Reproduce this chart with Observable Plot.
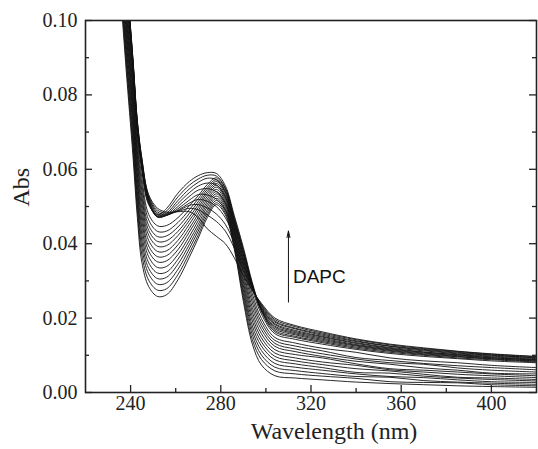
<!DOCTYPE html>
<html><head><meta charset="utf-8">
<script src="https://cdn.jsdelivr.net/npm/d3@7"></script>
<script src="https://cdn.jsdelivr.net/npm/@observablehq/plot@0.6"></script>
<style>body{margin:0;background:#fff}</style>
</head><body><div id="chart"></div>
<script>
// Wavelength grid (nm)
const wavelength = [235,238,241,243,245,248,252,256,261,266,270,274,278,282,286,290,294,298,304,313,325,340,355,370,385,400,420];
// Absorbance spectra
const s01 = [.1120,.0870,.0640,.0470,.0350,.0285,.0258,.0263,.0303,.0363,.0415,.0470,.0505,.0478,.0385,.0245,.0130,.0074,.0045,.0039,.0034,.0028,.0024,.0021,.0018,.0016,.0014];
const s02 = [.1137,.0889,.0659,.0489,.0370,.0302,.0275,.0279,.0317,.0374,.0424,.0477,.0510,.0483,.0391,.0255,.0142,.0089,.0058,.0050,.0044,.0038,.0029,.0027,.0026,.0021,.0018];
const s03 = [.1152,.0906,.0676,.0506,.0389,.0319,.0291,.0295,.0331,.0386,.0434,.0484,.0516,.0489,.0397,.0266,.0155,.0101,.0068,.0059,.0051,.0043,.0041,.0032,.0028,.0025,.0022];
const s04 = [.1167,.0923,.0693,.0523,.0407,.0334,.0306,.0310,.0345,.0397,.0443,.0491,.0522,.0494,.0403,.0276,.0167,.0113,.0078,.0068,.0060,.0050,.0043,.0040,.0034,.0029,.0027];
const s05 = [.1182,.0940,.0710,.0540,.0425,.0349,.0321,.0324,.0358,.0408,.0452,.0499,.0528,.0500,.0410,.0287,.0179,.0125,.0088,.0077,.0067,.0054,.0052,.0044,.0039,.0035,.0031];
const s06 = [.1196,.0956,.0726,.0556,.0443,.0365,.0336,.0339,.0371,.0419,.0462,.0506,.0534,.0505,.0416,.0297,.0192,.0136,.0097,.0085,.0075,.0064,.0058,.0049,.0041,.0039,.0035];
const s07 = [.1211,.0973,.0743,.0573,.0461,.0380,.0351,.0354,.0384,.0431,.0471,.0513,.0540,.0510,.0422,.0307,.0204,.0147,.0106,.0093,.0082,.0073,.0061,.0055,.0049,.0045,.0040];
const s08 = [.1225,.0988,.0758,.0588,.0477,.0394,.0365,.0368,.0397,.0441,.0480,.0520,.0546,.0516,.0428,.0318,.0216,.0158,.0115,.0102,.0093,.0077,.0064,.0060,.0055,.0050,.0045];
const s09 = [.1238,.1004,.0774,.0604,.0494,.0409,.0379,.0381,.0409,.0452,.0489,.0527,.0552,.0521,.0434,.0328,.0228,.0169,.0124,.0110,.0097,.0084,.0076,.0066,.0060,.0052,.0050];
const s10 = [.1252,.1019,.0789,.0619,.0511,.0423,.0393,.0395,.0422,.0462,.0497,.0534,.0557,.0526,.0440,.0338,.0241,.0179,.0132,.0117,.0104,.0090,.0080,.0076,.0066,.0060,.0055];
const s11 = [.1265,.1034,.0804,.0634,.0526,.0436,.0406,.0408,.0433,.0471,.0505,.0540,.0562,.0532,.0447,.0349,.0253,.0189,.0140,.0125,.0112,.0094,.0086,.0078,.0072,.0067,.0061];
const s12 = [.1278,.1048,.0818,.0648,.0542,.0449,.0419,.0421,.0445,.0481,.0513,.0546,.0567,.0537,.0453,.0359,.0265,.0199,.0148,.0133,.0119,.0108,.0093,.0085,.0080,.0073,.0067];
const s13 = [.1291,.1064,.0834,.0664,.0559,.0464,.0433,.0434,.0457,.0491,.0521,.0552,.0572,.0543,.0459,.0370,.0278,.0211,.0158,.0143,.0130,.0116,.0105,.0097,.0091,.0085,.0080];
const s14 = [.1306,.1080,.0850,.0680,.0577,.0479,.0448,.0449,.0470,.0502,.0529,.0559,.0577,.0548,.0465,.0380,.0290,.0218,.0163,.0148,.0134,.0119,.0108,.0100,.0093,.0088,.0082];
const s15 = [.1323,.1099,.0869,.0699,.0597,.0505,.0478,.0495,.0536,.0567,.0583,.0591,.0589,.0556,.0475,.0390,.0295,.0222,.0167,.0151,.0137,.0122,.0111,.0102,.0096,.0090,.0084];
const s16 = [.1327,.1103,.0873,.0703,.0601,.0508,.0474,.0488,.0526,.0557,.0574,.0584,.0582,.0550,.0470,.0384,.0290,.0220,.0171,.0155,.0140,.0125,.0113,.0104,.0097,.0091,.0085];
const s17 = [.1330,.1108,.0878,.0708,.0606,.0511,.0472,.0482,.0516,.0547,.0565,.0576,.0572,.0540,.0462,.0377,.0288,.0222,.0175,.0158,.0143,.0127,.0115,.0106,.0099,.0093,.0087];
const s18 = [.1333,.1111,.0881,.0711,.0610,.0514,.0471,.0478,.0508,.0537,.0555,.0563,.0558,.0527,.0453,.0370,.0286,.0224,.0178,.0161,.0146,.0129,.0117,.0108,.0101,.0094,.0088];
const s19 = [.1336,.1114,.0884,.0714,.0613,.0517,.0473,.0476,.0500,.0527,.0544,.0548,.0540,.0510,.0443,.0362,.0285,.0227,.0182,.0164,.0149,.0132,.0119,.0109,.0102,.0096,.0089];
const s20 = [.1339,.1118,.0888,.0718,.0617,.0520,.0477,.0476,.0494,.0517,.0532,.0531,.0520,.0490,.0430,.0353,.0283,.0229,.0185,.0167,.0151,.0134,.0121,.0112,.0104,.0098,.0091];
const s21 = [.1342,.1121,.0891,.0721,.0620,.0523,.0481,.0477,.0490,.0509,.0519,.0514,.0500,.0470,.0416,.0345,.0281,.0232,.0189,.0171,.0154,.0137,.0124,.0114,.0106,.0100,.0093];
const s22 = [.1345,.1125,.0895,.0725,.0624,.0526,.0485,.0479,.0488,.0503,.0505,.0496,.0480,.0452,.0402,.0337,.0279,.0235,.0192,.0173,.0157,.0139,.0125,.0116,.0108,.0101,.0094];
const s23 = [.1348,.1128,.0898,.0728,.0627,.0529,.0490,.0482,.0487,.0495,.0491,.0477,.0460,.0434,.0388,.0328,.0276,.0237,.0196,.0177,.0160,.0142,.0128,.0118,.0110,.0103,.0096];
const s24 = [.1350,.1130,.0900,.0730,.0630,.0532,.0495,.0485,.0486,.0486,.0470,.0440,.0420,.0400,.0362,.0315,.0274,.0240,.0200,.0180,.0163,.0144,.0130,.0120,.0111,.0104,.0097];
const spectra = [s01,s02,s03,s04,s05,s06,s07,s08,s09,s10,s11,s12,s13,s14,s15,s16,s17,s18,s19,s20,s21,s22,s23,s24];

const xMajor = [240, 280, 320, 360, 400];
const xMinor = [260, 300, 340, 380];
const yMajor = [0, 0.02, 0.04, 0.06, 0.08, 0.10];
const yMinor = [0.01, 0.03, 0.05, 0.07, 0.09];
const xTitle = "Wavelength (nm)";
const yTitle = "Abs";
const note = "DAPC";
const noteX = 312, noteY = 0.0312;
const arrowX = 310, arrowFrom = 0.0243, arrowTo = 0.0434;

const rows = spectra.flatMap((s, i) => s.map((a, j) => ({id: i, w: wavelength[j], a})));

const W = 538, H = 449, mL = 85, mR = 2, mT = 20, mB = 57;
const pw = W - mL - mR, ph = H - mT - mB;
const ink = "#222";
const serif = "Liberation Serif";
const fmtY = d3.format(".2f");

const chart = Plot.plot({
  width: W, height: H,
  marginLeft: mL, marginRight: mR, marginTop: mT, marginBottom: mB,
  x: {domain: [220, 420], axis: null},
  y: {domain: [0, 0.10], axis: null},
  style: {fontFamily: serif, background: "white", color: ink},
  marks: [
    Plot.line(rows, {x: "w", y: "a", z: "id", stroke: "#111", strokeWidth: 0.9, curve: "catmull-rom", clip: true}),
    Plot.tickX(xMajor, {x: d => d, insetTop: ph - 7, stroke: ink, strokeWidth: 1.3}),
    Plot.tickX(xMinor, {x: d => d, insetTop: ph - 4, stroke: ink, strokeWidth: 1.3}),
    Plot.tickY(yMajor, {y: d => d, insetRight: pw - 7, stroke: ink, strokeWidth: 1.3}),
    Plot.tickY(yMinor, {y: d => d, insetRight: pw - 4, stroke: ink, strokeWidth: 1.3}),
    Plot.tickY(yMajor, {y: d => d, insetLeft: pw - 7, stroke: ink, strokeWidth: 1.3}),
    Plot.tickY(yMinor, {y: d => d, insetLeft: pw - 4, stroke: ink, strokeWidth: 1.3}),
    Plot.frame({stroke: ink, strokeWidth: 1.6}),
    Plot.text(xMajor, {x: d => d, frameAnchor: "bottom", dy: 17, text: d => String(d), fontSize: 20, fontFamily: serif, fill: ink}),
    Plot.text(yMajor, {y: d => d, frameAnchor: "left", dx: -8, textAnchor: "end", text: d => fmtY(d), fontSize: 20, fontFamily: serif, fill: ink}),
    Plot.text([yTitle], {frameAnchor: "left", dx: -64, rotate: -90, fontSize: 24, fontFamily: serif, text: d => d, fill: ink}),
    Plot.text([xTitle], {frameAnchor: "bottom", dx: 23, dy: 46, fontSize: 24, fontFamily: serif, text: d => d, fill: ink}),
    Plot.arrow([0], {x1: arrowX, x2: arrowX, y1: arrowFrom, y2: arrowTo, stroke: "#111", strokeWidth: 1, headLength: 10, headAngle: 25}),
    Plot.text([note], {x: noteX, y: noteY, text: d => d, textAnchor: "start", fontFamily: "Liberation Sans", fontSize: 19, fill: "#111"})
  ]
});
document.getElementById("chart").append(chart);
</script>
</body></html>
